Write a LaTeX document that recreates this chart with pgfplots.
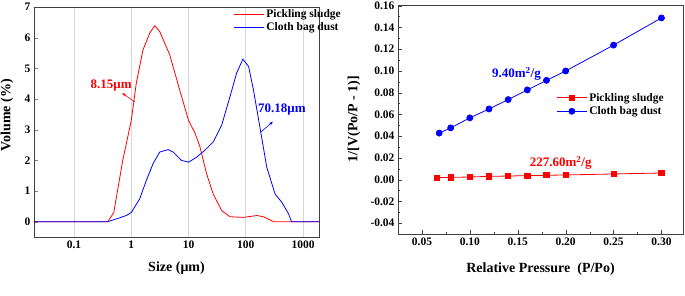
\documentclass[border=0pt]{standalone}
\usepackage{fontspec}
\setmainfont{Liberation Serif}
\usepackage{pgfplots}
\pgfplotsset{compat=1.18}
\usetikzlibrary{arrows.meta}
\definecolor{myred}{RGB}{255,0,0}
\definecolor{myblue}{RGB}{0,0,255}
\definecolor{gridgray}{RGB}{215,215,215}
\newcommand{\tfont}{\fontsize{11.5}{13}\selectfont\bfseries}
\newcommand{\gfont}{\fontsize{11.5}{13}\selectfont\bfseries}
\newcommand{\lfont}{\fontsize{14}{16}\selectfont\bfseries}
\newcommand{\afont}{\fontsize{13}{15}\selectfont\bfseries}
\begin{document}
\begin{tikzpicture}[x=1pt,y=1pt]
\useasboundingbox (0,0) rectangle (685,296);
% ---------------- (a) ----------------
\begin{axis}[
  at={(34pt,59pt)}, anchor=south west,
  scale only axis, width=285pt, height=230pt,
  xmode=log, xmin=0.02, xmax=1900, ymin=-0.5, ymax=7,
  axis line style={black!75},
  xtick={0.1,1,10,100,1000}, xticklabels={0.1,1,10,100,1000},
  xmajorgrids, grid style={gridgray, line width=0.6pt},
  major x tick style={draw=none}, minor x tick style={draw=none},
  ytick={0,1,2,3,4,5,6,7},
  tick align=inside, xtick pos=bottom, ytick pos=left,
  major tick length=4pt,
  tick label style={font=\tfont},
  /pgf/number format/assume math mode=true,
  xlabel={Size (μm)},
  xlabel style={at={(axis description cs:0.5,-0.135)}, anchor=center, font=\lfont},
  ylabel={Volume (\%)},
  ylabel style={at={(axis description cs:-0.095,0.53)}, anchor=center, font=\lfont},
  legend style={draw=none, fill=none, at={(axis description cs:1,1)}, xshift=24pt, anchor=north east, font=\gfont, inner xsep=0pt, inner ysep=0pt, row sep=0pt},
  legend cell align=left,
  legend image code/.code={\draw[#1] (0pt,0pt) -- (30pt,0pt);},
]
\addplot[myred, line width=0.8pt] coordinates {
(0.02,0) (0.39,0) (0.495,0.3) (0.71,2.0) (1.0,3.3) (1.22,4.5) (1.6,5.6) (2.1,6.15) (2.57,6.39) (3.14,6.2) (4.7,5.44) (7.0,4.3) (10,3.3) (12.9,2.9) (15.8,2.45) (20.7,1.56) (27,0.9) (38,0.36) (53,0.16) (91,0.14) (156,0.2) (204,0.16) (305,0) (1900,0)
};
\addlegendentry{\textbf{Pickling sludge}}
\addplot[myblue, line width=0.8pt] coordinates {
(0.02,0) (0.39,0) (0.55,0.09) (0.82,0.2) (1.0,0.3) (1.4,0.74) (1.83,1.34) (2.4,1.89) (3.14,2.27) (4.4,2.35) (5.4,2.27) (7.5,2.0) (10,1.94) (13.8,2.1) (19.3,2.33) (27,2.6) (38,3.15) (53,4.08) (69,4.84) (89,5.3) (112,5.06) (136,4.3) (178,3.04) (232,1.78) (325,0.9) (427,0.63) (560,0.25) (630,0) (1900,0)
};
\addlegendentry{\textbf{Cloth bag dust}}
\draw[myred, line width=0.6pt, -{Stealth[length=4pt,width=3pt]}] (axis cs:1.15,3.91) -- (axis cs:0.695,4.19);
\node[myred, font=\afont] at (axis cs:0.446,4.43) {8.15μm};
\draw[myblue, line width=0.6pt, -{Stealth[length=4pt,width=3pt]}] (axis cs:185,2.93) -- (axis cs:297,3.26);
\node[myblue, font=\afont] at (axis cs:427,3.64) {70.18μm};
\node[font=\lfont] at (axis description cs:0.5,-0.222) {(a)};
\end{axis}
% ---------------- (b) ----------------
\begin{axis}[
  at={(398pt,62pt)}, anchor=south west,
  scale only axis, width=285pt, height=229pt,
  xmin=0.025, xmax=0.3225, ymin=-0.05, ymax=0.1606,
  axis line style={black!75},
  xtick={0.05,0.1,0.15,0.2,0.25,0.3},
  ytick={-0.04,-0.02,0,0.02,0.04,0.06,0.08,0.1,0.12,0.14,0.16},
  minor x tick num=1, minor y tick num=1,
  tick align=inside, xtick pos=bottom, ytick pos=left,
  major tick length=4pt, minor tick length=2pt,
  tick style={black!75},
  tick label style={font=\tfont},
  /pgf/number format/assume math mode=true,
  xticklabel style={/pgf/number format/.cd, fixed, fixed zerofill, precision=2},
  yticklabel style={/pgf/number format/.cd, fixed, fixed zerofill, precision=2},
  scaled x ticks=false, scaled y ticks=false,
  xlabel={Relative Pressure\ \ (P/Po)},
  xlabel style={at={(axis description cs:0.5,-0.153)}, anchor=center, font=\lfont},
  ylabel={1/[V(Po/P - 1)]},
  ylabel style={at={(axis description cs:-0.154,0.502)}, anchor=center, font=\lfont},
  legend style={draw=none, fill=none, at={(axis description cs:0.94,0.625)}, anchor=north east, font=\gfont, inner xsep=0pt, inner ysep=0pt, row sep=0pt},
  legend cell align=left,
  legend image code/.code={\draw[mark repeat=2, mark phase=2, #1] plot coordinates {(0pt,0pt) (15pt,0pt) (30pt,0pt)};},
]
\addplot[myred, line width=0.8pt, mark=square*, mark size=2.6pt, mark options={solid, fill=myred}] coordinates {
(0.066,0.0018) (0.08,0.0021) (0.10,0.0024) (0.12,0.0030) (0.14,0.0033) (0.16,0.0037) (0.18,0.0040) (0.20,0.0043) (0.25,0.0052) (0.30,0.0061)
};
\addlegendentry{\textbf{Pickling sludge}}
\addplot[myblue, line width=0.8pt, mark=*, mark size=3pt, mark options={solid, fill=myblue}] coordinates {
(0.068,0.0428) (0.08,0.0476) (0.10,0.0568) (0.12,0.0650) (0.14,0.0736) (0.16,0.0825) (0.18,0.0913) (0.20,0.0999) (0.25,0.1237) (0.30,0.1487)
};
\addlegendentry{\textbf{Cloth bag dust}}
\node[myblue, font=\afont] at (axis cs:0.1486,0.0971) {9.40m\textsuperscript{2}/g};
\node[myred, font=\afont] at (axis cs:0.1948,0.0153) {227.60m\textsuperscript{2}/g};
\node[font=\lfont] at (axis description cs:0.5,-0.231) {(b)};
\end{axis}
\end{tikzpicture}
\end{document}
